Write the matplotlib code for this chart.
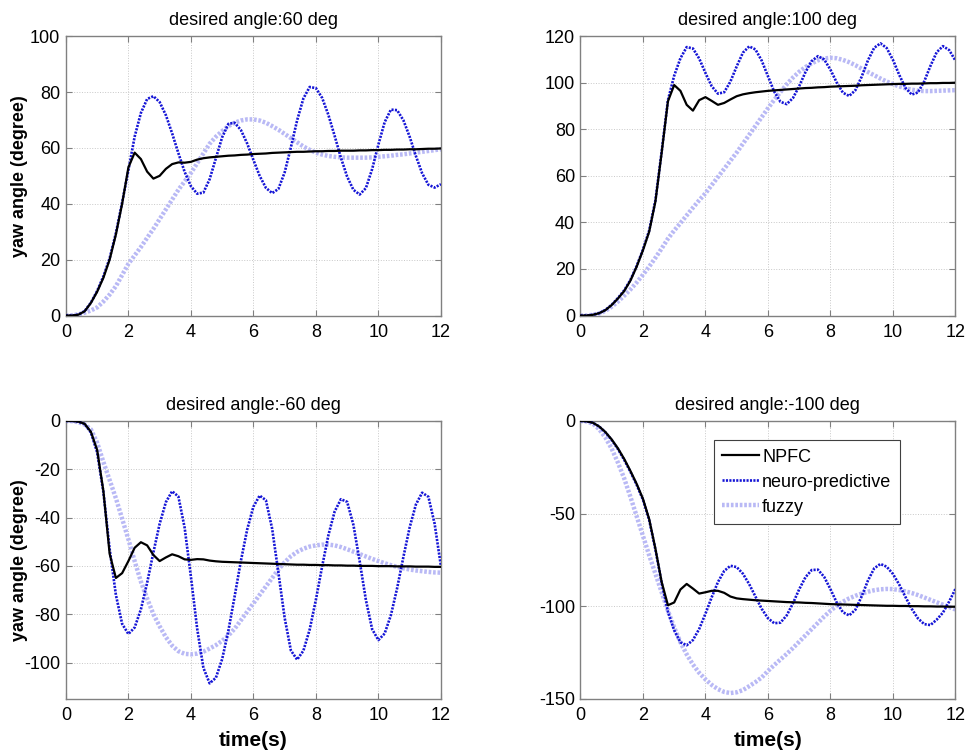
import numpy as np
import matplotlib
matplotlib.use("Agg")
import matplotlib.pyplot as plt

plt.rcParams['font.family'] = ['Liberation Sans', 'DejaVu Sans']
plt.rcParams['axes.unicode_minus'] = False

# sample times (s), every 0.2 s
t = np.linspace(0, 12, 61)

# desired angle 60 deg
npfc_60 = [0, 0, 0.3, 1.5, 4.5, 8.5, 13.5, 20, 29, 40,
           53, 58.3, 56, 51.5, 49, 50, 52.5, 54.2, 54.8, 54.7,
           55, 55.8, 56.3, 56.6, 56.8, 57, 57.2, 57.3, 57.5, 57.6,
           57.8, 57.9, 58.0, 58.2, 58.3, 58.4, 58.5, 58.6, 58.6, 58.7,
           58.8, 58.8, 58.9, 58.9, 59.0, 59.0, 59.0, 59.1, 59.1, 59.2,
           59.2, 59.3, 59.3, 59.4, 59.4, 59.5, 59.5, 59.6, 59.7, 59.7,
           59.8]
neuro_60 = [0, 0, 0.3, 1.6, 4.6, 8.8, 14, 20.5, 29.5, 40.5,
            52, 64, 72.5, 77.5, 78.5, 76.4, 71.7, 65.2, 58.1, 51.4,
            46.3, 43.6, 44.0, 48.8, 56.3, 63.8, 68.6, 69.0, 66.4, 61.6,
            55.7, 50.0, 45.7, 43.8, 45.3, 51.2, 60.2, 69.9, 77.7, 81.8,
            81.4, 77.9, 71.8, 64.3, 56.5, 49.7, 45.0, 43.3, 45.6, 52.4,
            61.2, 69.2, 73.7, 73.5, 69.9, 64.0, 57.1, 50.9, 46.8, 45.8,
            47]
fuzzy_60 = [0, 0.1, 0.4, 1.0, 1.8, 2.9, 5, 7.5, 10.5, 14.5,
            18.5, 21.5, 24.5, 27.8, 31, 34.5, 38, 41.5, 45, 48,
            51, 54.5, 58, 61.5, 64, 66, 67.8, 69, 69.8, 70.2,
            70.2, 69.8, 69, 67.8, 66.5, 65, 63.5, 62, 60.5, 59.3,
            58.3, 57.6, 57.1, 56.8, 56.6, 56.5, 56.5, 56.5, 56.5, 56.6,
            56.8, 57.0, 57.2, 57.5, 57.7, 58.0, 58.3, 58.6, 58.9, 59.2,
            59.5]

# desired angle 100 deg
npfc_100 = [0, 0, 0.3, 1, 2.3, 4.5, 7.3, 10.5, 15, 21,
            28, 36, 49, 70, 92, 99, 96.5, 90.5, 88, 92.5,
            93.8, 92.2, 90.5, 91.3, 92.8, 94.2, 95, 95.5, 95.9, 96.2,
            96.5, 96.7, 96.9, 97.1, 97.3, 97.5, 97.7, 97.8, 98.0, 98.1,
            98.3, 98.4, 98.5, 98.6, 98.7, 98.9, 99.0, 99.1, 99.2, 99.3,
            99.4, 99.5, 99.5, 99.6, 99.6, 99.7, 99.8, 99.8, 99.9, 99.9,
            100]
neuro_100 = [0, 0, 0.3, 1, 2.4, 4.6, 7.5, 10.8, 15.3, 21.3,
             28.3, 36.5, 49.5, 70.5, 92.5, 103, 110.5, 115.3, 114.7, 110.4,
             104.2, 98.5, 95.3, 95.9, 100.5, 107.0, 112.9, 115.6, 114.3, 109.5,
             102.8, 96.2, 91.8, 90.8, 93.4, 98.5, 104.5, 109.3, 111.4, 110.0,
             105.6, 100.1, 95.7, 94.3, 96.8, 102.6, 109.6, 115.0, 116.9, 114.9,
             109.8, 103.4, 97.8, 94.9, 95.8, 100.5, 107.2, 113.1, 115.7, 114.0,
             109.5]
fuzzy_100 = [0, 0, 0.3, 0.9, 2, 3.8, 6, 8.5, 11.2, 14.2,
             17.5, 21, 24.8, 28.8, 33, 36.5, 39.7, 43, 46.3, 49.5,
             52.5, 56, 59.5, 63, 66.5, 70, 73.8, 77.6, 81.4, 85.2,
             89, 92.6, 96, 99.3, 102.2, 104.7, 106.7, 108.3, 109.6, 110.4,
             110.7, 110.5, 109.8, 108.8, 107.5, 106, 104.6, 103.2, 101.8, 100.5,
             99.4, 98.4, 97.6, 97, 96.6, 96.4, 96.4, 96.5, 96.6, 96.7,
             96.8]

# desired angle -60 deg
npfc_m60 = [0, 0, -0.3, -1.2, -4.5, -12, -29, -55, -65, -63,
            -58, -52.5, -50.2, -51.5, -55.5, -58, -56.5, -55.2, -56, -57.3,
            -57.5, -57.2, -57.3, -57.8, -58.1, -58.3, -58.4, -58.5, -58.6, -58.7,
            -58.8, -58.9, -59.0, -59.1, -59.2, -59.3, -59.4, -59.5, -59.5, -59.6,
            -59.6, -59.7, -59.7, -59.8, -59.8, -59.9, -59.9, -60.0, -60.0, -60.0,
            -60.1, -60.1, -60.1, -60.2, -60.2, -60.2, -60.3, -60.3, -60.3, -60.4,
            -60.4]
neuro_m60 = [0, 0, -0.3, -1.3, -4.8, -13, -29.5, -53, -72, -84,
             -88.2, -85.5, -78.0, -67.0, -54.4, -42.6, -33.6, -29.1, -31.3, -44.2,
             -64.4, -85.9, -102.2, -108.6, -106.3, -98.6, -86.8, -72.6, -57.9, -45.0,
             -35.5, -30.9, -32.8, -44.6, -62.8, -81.5, -95.0, -98.8, -95.1, -86.4,
             -74.0, -60.2, -47.3, -37.5, -32.4, -33.5, -43.0, -58.0, -74.1, -86.2,
             -90.7, -88.0, -80.4, -69.2, -56.3, -44.1, -34.6, -29.7, -31.4, -42.6,
             -60.0]
fuzzy_m60 = [0, -0.1, -0.5, -1.5, -3.5, -9, -17, -24.5, -32, -40.5,
             -49, -58, -66.5, -73.5, -80, -85, -89.5, -93, -95.3, -96.4,
             -96.6, -96.3, -95.5, -94.2, -92.8, -91, -88.8, -86, -82.5, -79,
             -75.5, -72, -68.5, -65, -61.5, -58.5, -56, -54.2, -52.9, -52,
             -51.5, -51.2, -51.2, -51.5, -52.2, -53.1, -54.1, -55.1, -56.1, -57.1,
             -58, -58.9, -59.7, -60.4, -61, -61.5, -61.9, -62.2, -62.5, -62.7,
             -62.8]

# desired angle -100 deg
npfc_m100 = [0, -0.2, -1, -3, -6, -10, -14.8, -20.5, -27, -34,
             -42, -53, -69, -87, -99.5, -98, -91, -88, -90.5, -93.2,
             -92.5, -91.7, -91.7, -92.8, -94.8, -95.8, -96.2, -96.5, -96.8, -97.0,
             -97.2, -97.4, -97.6, -97.8, -97.9, -98.0, -98.2, -98.3, -98.5, -98.7,
             -98.9, -99.0, -99.1, -99.2, -99.3, -99.4, -99.5, -99.6, -99.7, -99.8,
             -99.8, -99.9, -99.9, -100.0, -100.0, -100.1, -100.1, -100.2, -100.2, -100.3,
             -100.3]
neuro_m100 = [0, -0.2, -1, -3, -6.2, -10.3, -15.2, -21, -27.5, -34.5,
              -42.5, -53.5, -69.5, -87.5, -103, -113, -119.5, -121.1, -118.3, -112.3,
              -104.1, -95.2, -87.0, -81.0, -78.2, -78.9, -82.5, -88.1, -94.8, -101.4,
              -106.5, -109.2, -108.9, -105.0, -98.5, -90.9, -84.4, -80.5, -80.3, -84.2,
              -90.8, -98.0, -103.3, -105.0, -101.9, -94.7, -86.2, -79.6, -77.2, -78.7,
              -82.6, -88.3, -95.0, -101.4, -106.6, -109.7, -110.2, -107.3, -103.5, -97.5,
              -90.7]
fuzzy_m100 = [0, -0.3, -1.5, -4.5, -9, -15, -22.5, -31, -41, -51.5,
              -62, -72.5, -82.5, -92.5, -102.5, -111.5, -119.5, -126, -131.5, -136,
              -139.5, -142.5, -144.8, -146.3, -146.9, -146.5, -145.3, -143.2, -141, -138.5,
              -135, -131.8, -128.8, -125.8, -122.6, -119.2, -115.8, -112.4, -109, -105.6,
              -102.5, -99.8, -97.6, -95.8, -94.4, -93.2, -92.2, -91.4, -90.9, -90.7,
              -90.8, -91.3, -92, -92.9, -94, -95.3, -96.6, -97.9, -99.2, -100.5,
              -101.8]

titles = ['desired angle:60 deg', 'desired angle:100 deg',
          'desired angle:-60 deg', 'desired angle:-100 deg']
ylims = [(0, 100), (0, 120), (-115, 0), (-150, 0)]
yticks = [np.arange(0, 101, 20), np.arange(0, 121, 20),
          np.arange(-100, 1, 20), np.arange(-150, 1, 50)]
xticks = np.arange(0, 13, 2)

series = [(npfc_60, neuro_60, fuzzy_60),
          (npfc_100, neuro_100, fuzzy_100),
          (npfc_m60, neuro_m60, fuzzy_m60),
          (npfc_m100, neuro_m100, fuzzy_m100)]

# axes boxes in figure fractions [left, bottom, width, height]
boxes = [[0.068, 0.581, 0.387, 0.371],
         [0.599, 0.581, 0.387, 0.371],
         [0.068, 0.072, 0.387, 0.369],
         [0.599, 0.072, 0.387, 0.369]]

fig = plt.figure(figsize=(9.69, 7.53), dpi=100)

for i in range(4):
    ax = fig.add_axes(boxes[i])
    npfc, neuro, fuzzy = series[i]
    ax.plot(t, fuzzy, color='#b9b9f5', linestyle=(0, (0.6, 0.4)),
            linewidth=3.2, label='fuzzy', zorder=2)
    ax.plot(t, neuro, color='#1515d6', linestyle=(0, (0.8, 0.5)),
            linewidth=1.9, label='neuro-predictive', zorder=3)
    ax.plot(t, npfc, color='black', linewidth=1.6, label='NPFC', zorder=4)

    ax.set_xlim(0, 12)
    ax.set_ylim(*ylims[i])
    ax.set_xticks(xticks)
    ax.set_yticks(yticks[i])
    ax.tick_params(direction='in', top=True, right=True, length=4,
                   width=0.8, color='#808080', labelsize=13, pad=4)
    ax.tick_params(axis='x', pad=6)
    for s in ax.spines.values():
        s.set_color('#808080')
        s.set_linewidth(1.0)
    ax.grid(True, linestyle=':', color='#c8c8c8', linewidth=0.7)
    ax.set_axisbelow(True)
    ax.set_title(titles[i], fontsize=13, pad=8)
    if i % 2 == 0:
        ax.set_ylabel('yaw angle (degree)', fontsize=13, fontweight='bold')
        ax.yaxis.set_label_coords(-0.10, 0.5)
    if i >= 2:
        ax.set_xlabel('time(s)', fontsize=15, fontweight='bold', labelpad=5)
    if i == 3:
        h, l = ax.get_legend_handles_labels()
        leg = ax.legend(h[::-1], l[::-1], loc='upper left',
                        bbox_to_anchor=(0.357, 0.93), fontsize=13,
                        fancybox=False, edgecolor='#404040', framealpha=1,
                        handlelength=2.0, handletextpad=0.2,
                        borderpad=0.45, labelspacing=0.45, borderaxespad=0)
        leg.get_frame().set_linewidth(0.8)

fig.savefig('out.png', dpi=100)
